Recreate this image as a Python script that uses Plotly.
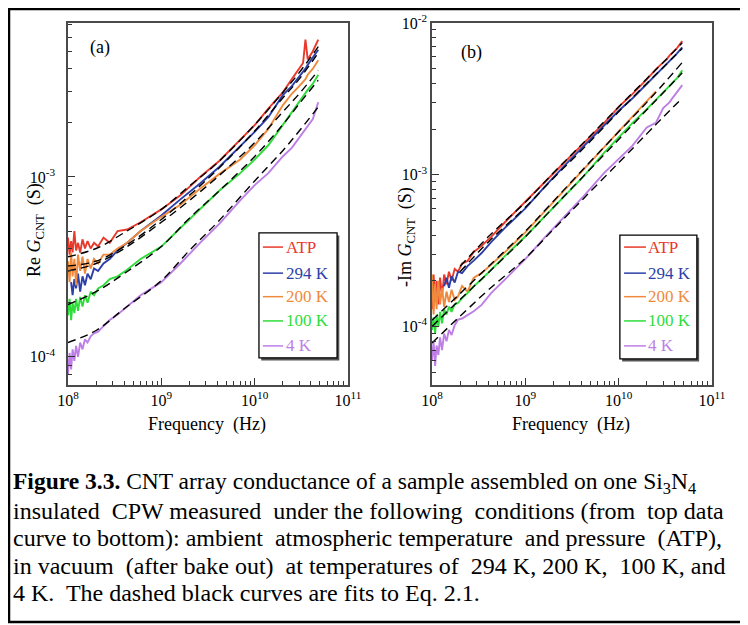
import plotly.graph_objects as go

# frequency grid shared by the measured curves (Hz)
freq_hz = [1.00e8, 1.04e8, 1.08e8, 1.12e8, 1.17e8, 1.22e8, 1.28e8, 1.35e8, 1.43e8, 1.52e8,
           1.62e8, 1.75e8, 1.90e8, 2.10e8, 2.40e8, 2.80e8, 3.40e8, 4.30e8, 6.00e8, 1.00e9,
           1.60e9, 2.60e9, 4.20e9, 7.00e9, 1.00e10, 1.40e10, 2.00e10, 2.50e10, 3.00e10, 3.30e10,
           3.50e10, 3.70e10, 4.20e10, 4.80e10]

series_names = ["ATP", "294 K", "200 K", "100 K", "4 K"]
series_colors = ["#e8392b", "#2c3fa8", "#ef8a3c", "#2fdd3a", "#bd7fe6"]

# (a) Re G_CNT (S)
re_atp = [4.6e-4, 3.7e-4, 4.4e-4, 3.8e-4, 5.0e-4, 3.9e-4, 4.3e-4, 3.8e-4, 4.5e-4, 4.0e-4,
          4.4e-4, 4.0e-4, 4.3e-4, 4.1e-4, 4.6e-4, 4.3e-4, 5.0e-4, 5.1e-4, 5.6e-4, 6.6e-4,
          7.9e-4, 1.0e-3, 1.23e-3, 1.62e-3, 1.94e-3, 2.4e-3, 2.95e-3, 3.5e-3, 4.0e-3, 4.3e-3,
          5.8e-3, 4.5e-3, 5.0e-3, 5.8e-3]
re_294 = [None, None, 2.6e-4, 2.2e-4, 2.7e-4, 2.4e-4, 2.9e-4, 2.3e-4, 2.8e-4, 2.5e-4,
          2.9e-4, 2.7e-4, 3.1e-4, 3.0e-4, 3.3e-4, 3.5e-4, 3.9e-4, 4.3e-4, 5.0e-4, 6.1e-4,
          7.5e-4, 9.2e-4, 1.14e-3, 1.48e-3, 1.78e-3, 2.15e-3, 2.85e-3, 3.2e-3, 3.6e-3, 3.85e-3,
          4.0e-3, 4.2e-3, 4.6e-3, 5.1e-3]
re_200 = [3.4e-4, 2.6e-4, 3.8e-4, 2.8e-4, 3.5e-4, 2.5e-4, 3.7e-4, 3.0e-4, 3.6e-4, 2.9e-4,
          3.5e-4, 3.1e-4, 3.5e-4, 3.3e-4, 3.7e-4, 3.7e-4, 4.0e-4, 4.3e-4, 5.0e-4, 6.0e-4,
          7.0e-4, 8.6e-4, 1.04e-3, 1.25e-3, 1.5e-3, 1.85e-3, 2.5e-3, 2.9e-3, 3.2e-3, 3.4e-3,
          3.5e-3, 3.7e-3, 4.0e-3, 4.45e-3]
re_100 = [1.7e-4, 2.1e-4, 1.6e-4, 2.0e-4, 1.75e-4, 2.1e-4, 1.8e-4, 2.15e-4, 1.9e-4, 2.2e-4,
          2.0e-4, 2.3e-4, 2.2e-4, 2.4e-4, 2.5e-4, 2.7e-4, 2.8e-4, 3.05e-4, 3.5e-4, 4.1e-4,
          5.2e-4, 6.6e-4, 8.4e-4, 1.05e-3, 1.25e-3, 1.5e-3, 1.95e-3, 2.3e-3, 2.65e-3, 2.8e-3,
          2.95e-3, 3.05e-3, 3.3e-3, 3.7e-3]
re_4 = [8.0e-5, 1.05e-4, 8.5e-5, 1.1e-4, 9.5e-5, 1.15e-4, 1.0e-4, 1.2e-4, 1.1e-4, 1.25e-4,
        1.2e-4, 1.3e-4, 1.35e-4, 1.38e-4, 1.48e-4, 1.6e-4, 1.72e-4, 1.9e-4, 2.2e-4, 2.6e-4,
        3.3e-4, 4.3e-4, 5.5e-4, 7.4e-4, 9.0e-4, 1.05e-3, 1.3e-3, 1.45e-3, 1.65e-3, 1.75e-3,
        1.85e-3, 1.9e-3, 2.1e-3, 2.6e-3]

# (b) -Im G_CNT (S)
im_atp = [1.3e-4, 2.2e-4, 1.5e-4, 2.0e-4, 1.4e-4, 2.1e-4, 1.6e-4, 2.2e-4, 1.9e-4, 2.3e-4,
          2.0e-4, 2.4e-4, 2.3e-4, 2.6e-4, 2.7e-4, 3.1e-4, 3.4e-4, 3.9e-4, 4.85e-4, 6.6e-4,
          8.9e-4, 1.2e-3, 1.62e-3, 2.2e-3, 2.8e-3, 3.4e-3, 4.25e-3, 4.95e-3, 5.5e-3, 5.8e-3,
          6.1e-3, 6.3e-3, 6.8e-3, 7.6e-3]
im_294 = [None] * 7 + [1.84e-4, 2.1e-4, 1.8e-4, 2.15e-4, 1.95e-4, 2.3e-4, 2.25e-4, 2.5e-4,
                       2.72e-4, 3.05e-4, 3.6e-4, 4.45e-4, 6.0e-4, 8.3e-4, 1.14e-3, 1.54e-3,
                       2.12e-3, 2.64e-3, 3.18e-3, 3.96e-3, 4.56e-3, 5.13e-3, 5.42e-3, 5.61e-3,
                       5.82e-3, 6.28e-3, 6.9e-3]
im_200 = [2.2e-4, 1.2e-4, 1.9e-4, 1.3e-4, 2.0e-4, 1.4e-4, 1.8e-4, 1.35e-4, 1.7e-4, 1.45e-4,
          1.75e-4, 1.5e-4, 1.58e-4, 1.85e-4, 1.7e-4, 2.1e-4, 2.25e-4, 2.55e-4, 3.08e-4, 4.17e-4,
          5.7e-4, 7.88e-4, 1.08e-3, 1.52e-3, 1.93e-3, 2.43e-3, 3.05e-3, 3.54e-3] + [None] * 6
im_100 = [9.5e-5, 1.15e-4, 9.0e-5, 1.2e-4, 1.0e-4, 1.25e-4, 1.05e-4, 1.3e-4, 1.2e-4, 1.35e-4,
          1.25e-4, 1.4e-4, 1.43e-4, 1.54e-4, 1.66e-4, 1.84e-4, 2.05e-4, 2.37e-4, 2.9e-4, 3.92e-4,
          5.31e-4, 7.2e-4, 9.75e-4, 1.4e-3, 1.77e-3, 2.19e-3, 2.71e-3, 3.13e-3, 3.49e-3, 3.71e-3,
          3.84e-3, 3.98e-3, 4.31e-3, 4.88e-3]
im_4 = [6.0e-5, 8.0e-5, 5.5e-5, 7.5e-5, 6.5e-5, 8.5e-5, 7.0e-5, 9.0e-5, 8.0e-5, 9.5e-5,
        8.8e-5, 1.02e-4, 1.11e-4, 1.13e-4, 1.19e-4, 1.26e-4, 1.39e-4, 1.66e-4, 2.03e-4, 2.78e-4,
        3.84e-4, 5.31e-4, 7.2e-4, 1.03e-3, 1.27e-3, 1.55e-3, 2.05e-3, 2.2e-3, 2.75e-3, 2.9e-3,
        3.0e-3, 3.15e-3, 3.5e-3, 3.9e-3]

# dashed black fits (Eq. 2.1)
fit_freq = [1e8, 2e8, 4e8, 1e9, 2e9, 4e9, 1e10, 2e10, 3e10, 4.8e10]
fit_re = [
    [3.6e-4, 4.0e-4, 4.9e-4, 6.6e-4, 8.9e-4, 1.2e-3, 1.95e-3, 2.95e-3, 3.8e-3, 5.3e-3],
    [3.2e-4, 3.4e-4, 4.1e-4, 5.8e-4, 7.9e-4, 1.1e-3, 1.8e-3, 2.75e-3, 3.5e-3, 4.9e-3],
    [3.0e-4, 3.3e-4, 4.0e-4, 5.6e-4, 7.4e-4, 1.0e-3, 1.55e-3, 2.3e-3, 2.9e-3, 3.9e-3],
    [1.95e-4, 2.3e-4, 2.9e-4, 4.1e-4, 5.9e-4, 8.2e-4, 1.3e-3, 1.95e-3, 2.55e-3, 3.45e-3],
    [1.2e-4, 1.4e-4, 1.85e-4, 2.65e-4, 3.9e-4, 5.6e-4, 9.5e-4, 1.4e-3, 1.8e-3, 2.45e-3],
]
fit_im = [
    [None, 2.5e-4, 3.9e-4, 6.6e-4, 1.03e-3, 1.58e-3, 2.8e-3, 4.3e-3, 5.5e-3, 7.4e-3],
    [None, 2.3e-4, 3.6e-4, 6.1e-4, 9.5e-4, 1.45e-3, 2.6e-3, 4.0e-3, 5.1e-3, 6.8e-3],
    [1.1e-4, 1.65e-4, 2.48e-4, 4.25e-4, 6.7e-4, 1.06e-3, 1.92e-3, 3.0e-3, 3.95e-3, 5.5e-3],
    [1.0e-4, 1.51e-4, 2.26e-4, 3.9e-4, 6.1e-4, 9.5e-4, 1.71e-3, 2.68e-3, 3.47e-3, 4.7e-3],
    [7.8e-5, 1.17e-4, 1.74e-4, 2.82e-4, 4.37e-4, 6.76e-4, 1.2e-3, 1.86e-3, 2.4e-3, 3.2e-3],
]

NB = "\u00a0"
caption_lines = [
    "<b>Figure 3.3.</b> CNT array conductance of a sample assembled on one Si<sub>3</sub>N<sub>4</sub>",
    "insulated" + NB + " CPW measured" + NB + " under the following" + NB
    + " conditions (from" + NB + " top data",
    "curve to bottom): ambient" + NB + " atmospheric temperature" + NB
    + " and pressure" + NB + " (ATP),",
    "in vacuum" + NB + " (after bake out)" + NB + " at temperatures of" + NB
    + " 294 K, 200 K," + NB + " 100 K, and",
    "4 K." + NB + " The dashed black curves are fits to Eq. 2.1.",
]
caption_sizes = [23.5, 24, 24, 24, 24]

FONT = "Liberation Serif, Times New Roman, serif"
# the page puts the figure 8px in from the top-left corner; positions below are page pixels
OFF = 8
W, H = 740, 617


def px(x):
    return (x - OFF) / W


def py(y):
    return 1 - (y - OFF) / H


fig = go.Figure()

panels = [("x", "y", [re_atp, re_294, re_200, re_100, re_4], fit_re),
          ("x2", "y2", [im_atp, im_294, im_200, im_100, im_4], fit_im)]

for xa, ya, curves, fits in panels:
    for name, col, vals in zip(series_names, series_colors, curves):
        fig.add_trace(go.Scatter(x=freq_hz, y=vals, mode="lines", name=name,
                                 line=dict(color=col, width=1.9), xaxis=xa, yaxis=ya,
                                 showlegend=False))
    for vals in fits:
        fig.add_trace(go.Scatter(x=fit_freq, y=vals, mode="lines", line_shape="spline",
                                 line=dict(color="black", width=1.4, dash="8px,5px"),
                                 xaxis=xa, yaxis=ya, showlegend=False))


def minor_vals(lo, hi):
    out = []
    for e in range(lo, hi):
        for m in range(2, 10):
            out.append(m * 10.0 ** e)
    return out


axis_common = dict(type="log", showgrid=False, zeroline=False, showline=True,
                   linecolor="#4a4a4a", linewidth=1.5, mirror=True, automargin=False,
                   ticks="inside", ticklen=7, tickwidth=1.2, tickcolor="#333",
                   tickfont=dict(family=FONT, size=16, color="black"))

xticks = dict(tickmode="array", tickvals=[1e8, 1e9, 1e10, 1e11],
              ticktext=["10<sup>8</sup>", "10<sup>9</sup>", "10<sup>10</sup>", "10<sup>11</sup>"],
              minor=dict(tickmode="array", tickvals=minor_vals(8, 11), ticks="inside",
                         ticklen=4, tickwidth=1, tickcolor="#333"))

fig.update_layout(
    xaxis=dict(domain=[px(68), px(348)], range=[8, 11], anchor="y", **xticks, **axis_common),
    xaxis2=dict(domain=[px(432), px(712)], range=[8, 11], anchor="y2", **xticks, **axis_common),
    yaxis=dict(domain=[py(385), py(23)], range=[-4.157, -2.144], anchor="x",
               tickmode="array", tickvals=[1e-4, 1e-3],
               ticktext=["10<sup>-4</sup>", "10<sup>-3</sup>"],
               minor=dict(tickmode="array", tickvals=minor_vals(-5, -2), ticks="inside",
                          ticklen=4, tickwidth=1, tickcolor="#333"),
               ticklabelstandoff=8, **axis_common),
    yaxis2=dict(domain=[py(385), py(23)], range=[-4.385, -2.0], anchor="x2",
                tickmode="array", tickvals=[1e-4, 1e-3, 1e-2],
                ticktext=["10<sup>-4</sup>", "10<sup>-3</sup>", "10<sup>-2</sup>"],
                minor=dict(tickmode="array", tickvals=minor_vals(-5, -2), ticks="inside",
                           ticklen=4, tickwidth=1, tickcolor="#333"),
                **axis_common),
)

annotations = []
shapes = []

# axis titles and panel tags
annotations += [
    dict(x=px(35), y=py(230), text="Re" + NB + "<i>G</i><sub>CNT</sub>" + NB + NB + "(S)", textangle=-90),
    dict(x=px(406), y=py(237), text="-Im" + NB + "<i>G</i><sub>CNT</sub>" + NB + NB + "(S)", textangle=-90),
    dict(x=px(207), y=py(424), text="Frequency" + NB + NB + "(Hz)"),
    dict(x=px(571), y=py(424), text="Frequency" + NB + NB + "(Hz)"),
    dict(x=px(100), y=py(48), text="(a)"),
    dict(x=px(471), y=py(52), text="(b)"),
]
for a in annotations:
    a.update(xref="paper", yref="paper", showarrow=False, xanchor="center", yanchor="middle",
             font=dict(family=FONT, size=18, color="black"))

# hand-made legends inside each panel
legend_boxes = [("x domain", "y domain", 0.682, 0.961, 0.075, 0.42, 0.696, 0.768, 0.772),
                ("x2 domain", "y2 domain", 0.671, 0.946, 0.072, 0.414, 0.686, 0.764, 0.766)]
row_y = [0.381, 0.309, 0.244, 0.177, 0.108]
for xr, yr, bx0, bx1, by0, by1, lx0, lx1, tx in legend_boxes:
    shapes.append(dict(type="rect", xref=xr, yref=yr, x0=bx0 + 0.008, x1=bx1 + 0.008,
                       y0=by0 - 0.007, y1=by1 - 0.007, line=dict(width=0),
                       fillcolor="#555", layer="above"))
    shapes.append(dict(type="rect", xref=xr, yref=yr, x0=bx0, x1=bx1, y0=by0, y1=by1,
                       line=dict(color="black", width=1.3), fillcolor="white", layer="above"))
    for name, col, ry in zip(series_names, series_colors, row_y):
        shapes.append(dict(type="line", xref=xr, yref=yr, x0=lx0, x1=lx1, y0=ry, y1=ry,
                           line=dict(color=col, width=1.5), layer="above"))
        annotations.append(dict(xref=xr, yref=yr, x=tx, y=ry, xanchor="left", yanchor="middle",
                                showarrow=False, text=name,
                                font=dict(family=FONT, size=17, color=col)))

# caption
cap_y = [483, 511, 538, 566, 593]
for txt, size, cy in zip(caption_lines, caption_sizes, cap_y):
    annotations.append(dict(xref="paper", yref="paper", x=px(11), y=py(cy),
                            xanchor="left", yanchor="middle", showarrow=False, text=txt,
                            font=dict(family=FONT, size=size, color="black")))

# outer frame (right edge falls outside the page)
shapes.append(dict(type="rect", xref="paper", yref="paper", x0=px(9), x1=1.05,
                   y0=py(622), y1=1 - 1 / H, line=dict(color="black", width=2.5)))

fig.update_layout(width=W, height=H, margin=dict(l=0, r=0, t=0, b=0),
                  paper_bgcolor="white", plot_bgcolor="white",
                  annotations=annotations, shapes=shapes, showlegend=False)

fig.write_html("out.html")
